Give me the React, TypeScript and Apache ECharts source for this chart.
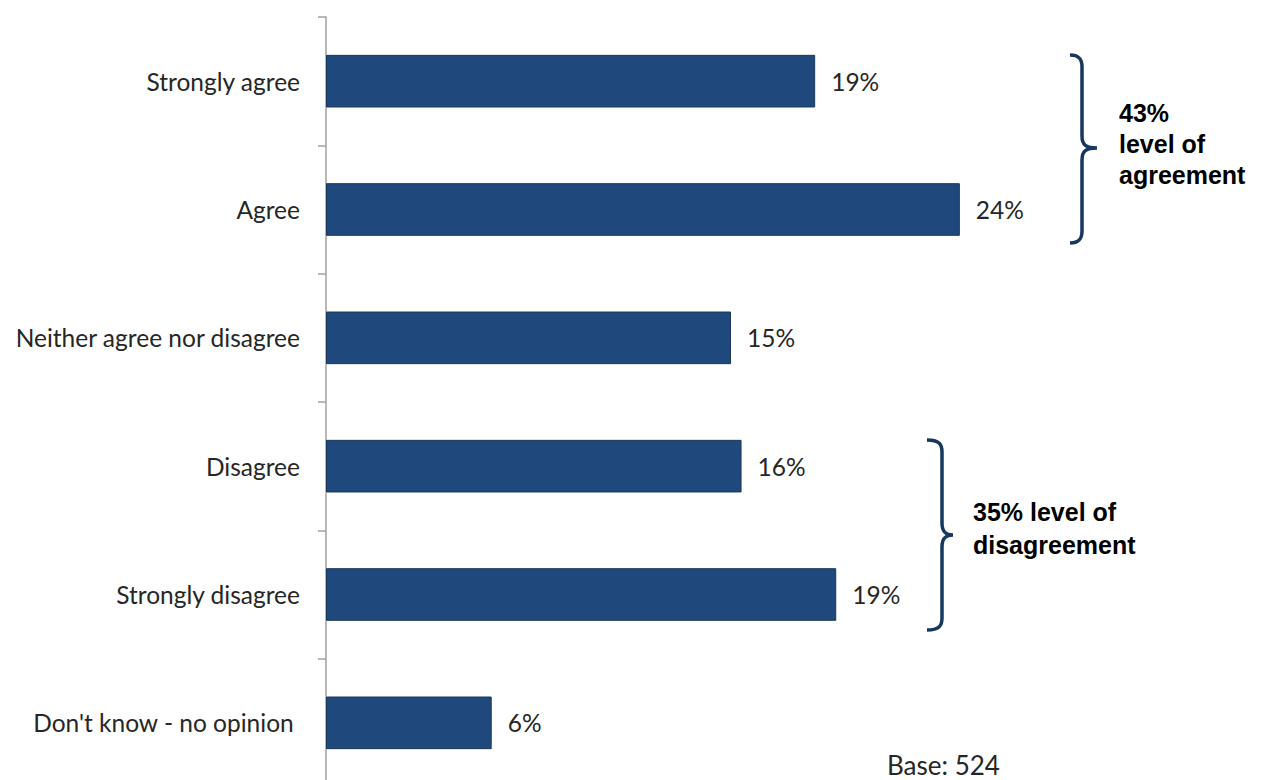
import React, { useEffect, useRef } from "react";
import * as echarts from "echarts";

const categories = [
  "Strongly agree",
  "Agree",
  "Neither agree nor disagree",
  "Disagree",
  "Strongly disagree",
  "Don't know - no opinion ",
];
const values = [18.6, 24.1, 15.4, 15.8, 19.4, 6.3];

const agreeNote = "43%\nlevel of\nagreement";
const disagreeNote = "35% level of\ndisagreement";
const baseNote = "Base: 524";

function bracePath(w: number, h: number, vx: number, tipY: number): string {
  const r = 12;
  return [
    `M0,0`,
    `C${vx - 3},0 ${vx},4 ${vx},${r}`,
    `L${vx},${tipY - r}`,
    `C${vx},${tipY - 3} ${vx + 4},${tipY} ${w},${tipY}`,
    `C${vx + 4},${tipY} ${vx},${tipY + 3} ${vx},${tipY + r}`,
    `L${vx},${h - r}`,
    `C${vx},${h - 4} ${vx - 3},${h} 0,${h}`,
  ].join(" ");
}

let registered = false;
function registerBraces() {
  if (registered) return;
  registered = true;
  echarts.graphic.registerShape(
    "braceTop",
    echarts.graphic.extendPath(bracePath(27, 188, 12, 93), {})
  );
  echarts.graphic.registerShape(
    "braceBottom",
    echarts.graphic.extendPath(bracePath(26, 190, 15, 95), {})
  );
}

export default function App() {
  const ref = useRef<HTMLDivElement>(null);
  useEffect(() => {
    if (!ref.current) return;
    registerBraces();
    const chart = echarts.init(ref.current, undefined, { renderer: "svg" });
    const braceColor = "#17375E";
    chart.setOption({
      animation: false,
      backgroundColor: "#ffffff",
      grid: { left: 326, top: 17, width: 789, height: 770, outerBoundsMode: "none", containLabel: false },
      xAxis: {
        type: "value",
        min: 0,
        max: 30,
        show: false,
      },
      yAxis: {
        type: "category",
        data: categories,
        inverse: true,
        axisLine: { show: true, lineStyle: { color: "#a0a0a0", width: 1.5 } },
        axisTick: { show: true, length: 8, lineStyle: { color: "#a0a0a0", width: 1.5 } },
        axisLabel: {
          margin: 26,
          fontFamily: "Lato",
          fontSize: 24.5,
          color: "#262626",
        },
        splitLine: { show: false },
      },
      series: [
        {
          type: "bar",
          data: values,
          barCategoryGap: "59%",
          itemStyle: { color: "#1F497D", borderColor: "#1a3658", borderWidth: 1 },
          label: {
            show: true,
            position: "right",
            distance: 16,
            fontFamily: "Lato",
            fontSize: 24.5,
            color: "#262626",
            formatter: (p: any) => `${Math.round(p.value)}%`,
          },
        },
      ],
      graphic: [
        {
          type: "braceTop",
          x: 1070,
          y: 55,
          style: { stroke: braceColor, lineWidth: 3.5, fill: "none" },
        },
        {
          type: "braceBottom",
          x: 927,
          y: 440,
          style: { stroke: braceColor, lineWidth: 3.5, fill: "none" },
        },
        {
          type: "text",
          x: 1119,
          y: 144,
          style: {
            text: agreeNote,
            font: 'bold 25px "Liberation Sans", Arial, sans-serif',
            fill: "#000000",
            lineHeight: 31,
            verticalAlign: "middle",
            align: "left",
          },
        },
        {
          type: "text",
          x: 973,
          y: 528,
          style: {
            text: disagreeNote,
            font: 'bold 25px "Liberation Sans", Arial, sans-serif',
            fill: "#000000",
            lineHeight: 33,
            verticalAlign: "middle",
            align: "left",
          },
        },
        {
          type: "text",
          x: 887,
          y: 765,
          style: {
            text: baseNote,
            font: '26px Lato, sans-serif',
            fill: "#262626",
            verticalAlign: "middle",
            align: "left",
          },
        },
      ],
    });
    return () => chart.dispose();
  }, []);
  return (
    <div
      ref={ref}
      style={{ position: "absolute", left: 0, top: 0, width: 1265, height: 780 }}
    />
  );
}
